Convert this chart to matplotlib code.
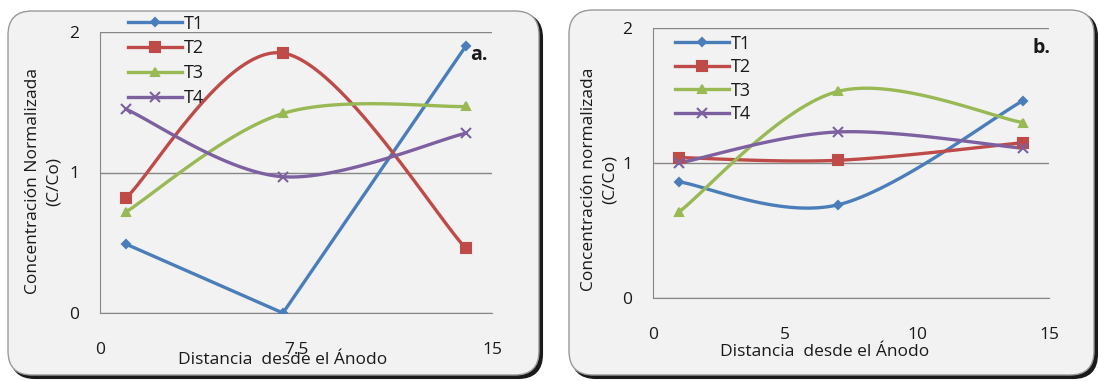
import numpy as np
import matplotlib
matplotlib.use("Agg")
import matplotlib.pyplot as plt
from matplotlib.patches import FancyBboxPatch
from matplotlib.lines import Line2D
from matplotlib.transforms import IdentityTransform

plt.rcParams['font.family'] = ['Open Sans', 'DejaVu Sans']

# distancia desde el ánodo (cm)
distancia = [1, 7, 14]

# panel a.
a_t1 = [0.49, 0.00, 1.90]
a_t2 = [0.82, 1.85, 0.46]
a_t3 = [0.72, 1.42, 1.47]
a_t4 = [1.45, 0.97, 1.28]

# panel b.
b_t1 = [0.86, 0.69, 1.46]
b_t2 = [1.04, 1.02, 1.15]
b_t3 = [0.64, 1.53, 1.30]
b_t4 = [1.00, 1.23, 1.11]

series = ['T1', 'T2', 'T3', 'T4']
colores = ['#4A7EBB', '#BE4B48', '#98B954', '#7D60A0']
marcadores = ['D', 's', '^', 'x']
tam_marcador = [4, 7, 6, 7]

texto = '#1a1a1a'


def excel_smooth(x, y, n=60):
    # curva suavizada tipo Excel (Bezier con tangentes Catmull-Rom)
    pts = np.column_stack([x, y]).astype(float)
    pts = np.vstack([pts[0], pts, pts[-1]])
    out = []
    for i in range(1, len(pts) - 2):
        p0, p1, p2, p3 = pts[i - 1], pts[i], pts[i + 1], pts[i + 2]
        c1 = p1 + (p2 - p0) / 6.0
        c2 = p2 - (p3 - p1) / 6.0
        t = np.linspace(0, 1, n)[:, None]
        seg = ((1 - t) ** 3) * p1 + 3 * ((1 - t) ** 2) * t * c1 \
            + 3 * (1 - t) * t ** 2 * c2 + t ** 3 * p2
        out.append(seg if i == 1 else seg[1:])
    out = np.vstack(out)
    return out[:, 0], out[:, 1]


def marco(fig, x0, y0, w, h):
    # recuadro redondeado con sombra
    sombra = FancyBboxPatch((x0 + 3, y0 - 3), w, h,
                            boxstyle="round,pad=0,rounding_size=24",
                            transform=IdentityTransform(), facecolor='#1a1a1a',
                            edgecolor='#1a1a1a', lw=1.5, zorder=-3)
    caja = FancyBboxPatch((x0, y0), w, h,
                          boxstyle="round,pad=0,rounding_size=24",
                          transform=IdentityTransform(), facecolor='#F2F2F2',
                          edgecolor='#9a9a9a', lw=1.0, zorder=-2)
    fig.patches.extend([sombra, caja])


def panel(ax, datos, rectas, xticks, xtick_labels, letra, letra_pos,
          leg_anchor, leg_espacio):
    for vals, c, m, ms, recta in zip(datos, colores, marcadores, tam_marcador, rectas):
        if recta:
            sx, sy = distancia, vals
        else:
            sx, sy = excel_smooth(distancia, vals)
        ax.plot(sx, sy, color=c, lw=2.4, solid_capstyle='round', zorder=3)
        ax.plot(distancia, vals, ls='none', marker=m, ms=ms, color=c,
                mec=c, mew=1.5, zorder=4)
    ax.set_xlim(0, 15)
    ax.set_ylim(0, 2)
    ax.set_yticks([0, 1, 2])
    ax.set_xticks(xticks)
    ax.set_xticklabels(xtick_labels)
    ax.set_facecolor('none')
    ax.grid(axis='y', color='#868686', lw=1.0)
    ax.set_axisbelow(True)
    for s in ['top', 'right']:
        ax.spines[s].set_visible(False)
    for s in ['left', 'bottom']:
        ax.spines[s].set_color('#868686')
    ax.tick_params(length=0, labelsize=12.5, colors=texto)
    ax.tick_params(axis='x', pad=21)
    ax.tick_params(axis='y', pad=15)
    handles = [Line2D([0], [0], color=c, lw=2.4, marker=m, ms=ms, mec=c, mew=1.5)
               for c, m, ms in zip(colores, marcadores, tam_marcador)]
    ax.legend(handles, series, loc='upper left', bbox_to_anchor=leg_anchor,
              frameon=False, fontsize=13, handlelength=3.0, handletextpad=0.1,
              labelspacing=leg_espacio, borderpad=0, borderaxespad=0,
              labelcolor=texto)
    ax.text(letra_pos[0], letra_pos[1], letra, transform=ax.transAxes,
            ha='right', va='center', fontsize=14, fontweight='bold', color=texto)


fig = plt.figure(figsize=(10.98, 3.81), dpi=100)

marco(fig, 8, 6, 531, 364)
marco(fig, 569, 6, 525, 365)

ax_a = fig.add_axes([100 / 1098, 68 / 381, 392 / 1098, 281 / 381])
ax_b = fig.add_axes([653 / 1098, 83 / 381, 396 / 1098, 270 / 381])

panel(ax_a, [a_t1, a_t2, a_t3, a_t4], [True, False, False, False],
      [0, 7.5, 15], ['0', '7.5', '15'], 'a.', (0.99, 0.918), (0.071, 1.062), 0.38)
panel(ax_b, [b_t1, b_t2, b_t3, b_t4], [False, False, False, False],
      [0, 5, 10, 15], ['0', '5', '10', '15'], 'b.', (1.005, 0.926), (0.056, 0.975), 0.3)

etiqueta_y = dict(rotation=90, ha='center', va='center', fontsize=12.5,
                  linespacing=1.4, color=texto, multialignment='center')
fig.text(43 / 1098, 1 - 181 / 381, 'Concentración Normalizada\n(C/Co)', **etiqueta_y)
fig.text(599 / 1098, 1 - 179 / 381, 'Concentración normalizada\n(C/Co)', **etiqueta_y)

fig.text(283 / 1098, 1 - 360 / 381, 'Distancia  desde el Ánodo', ha='center',
         va='center', fontsize=12.5, color=texto)
fig.text(825 / 1098, 1 - 352 / 381, 'Distancia  desde el Ánodo', ha='center',
         va='center', fontsize=12.5, color=texto)

fig.savefig('out.png', dpi=100)
